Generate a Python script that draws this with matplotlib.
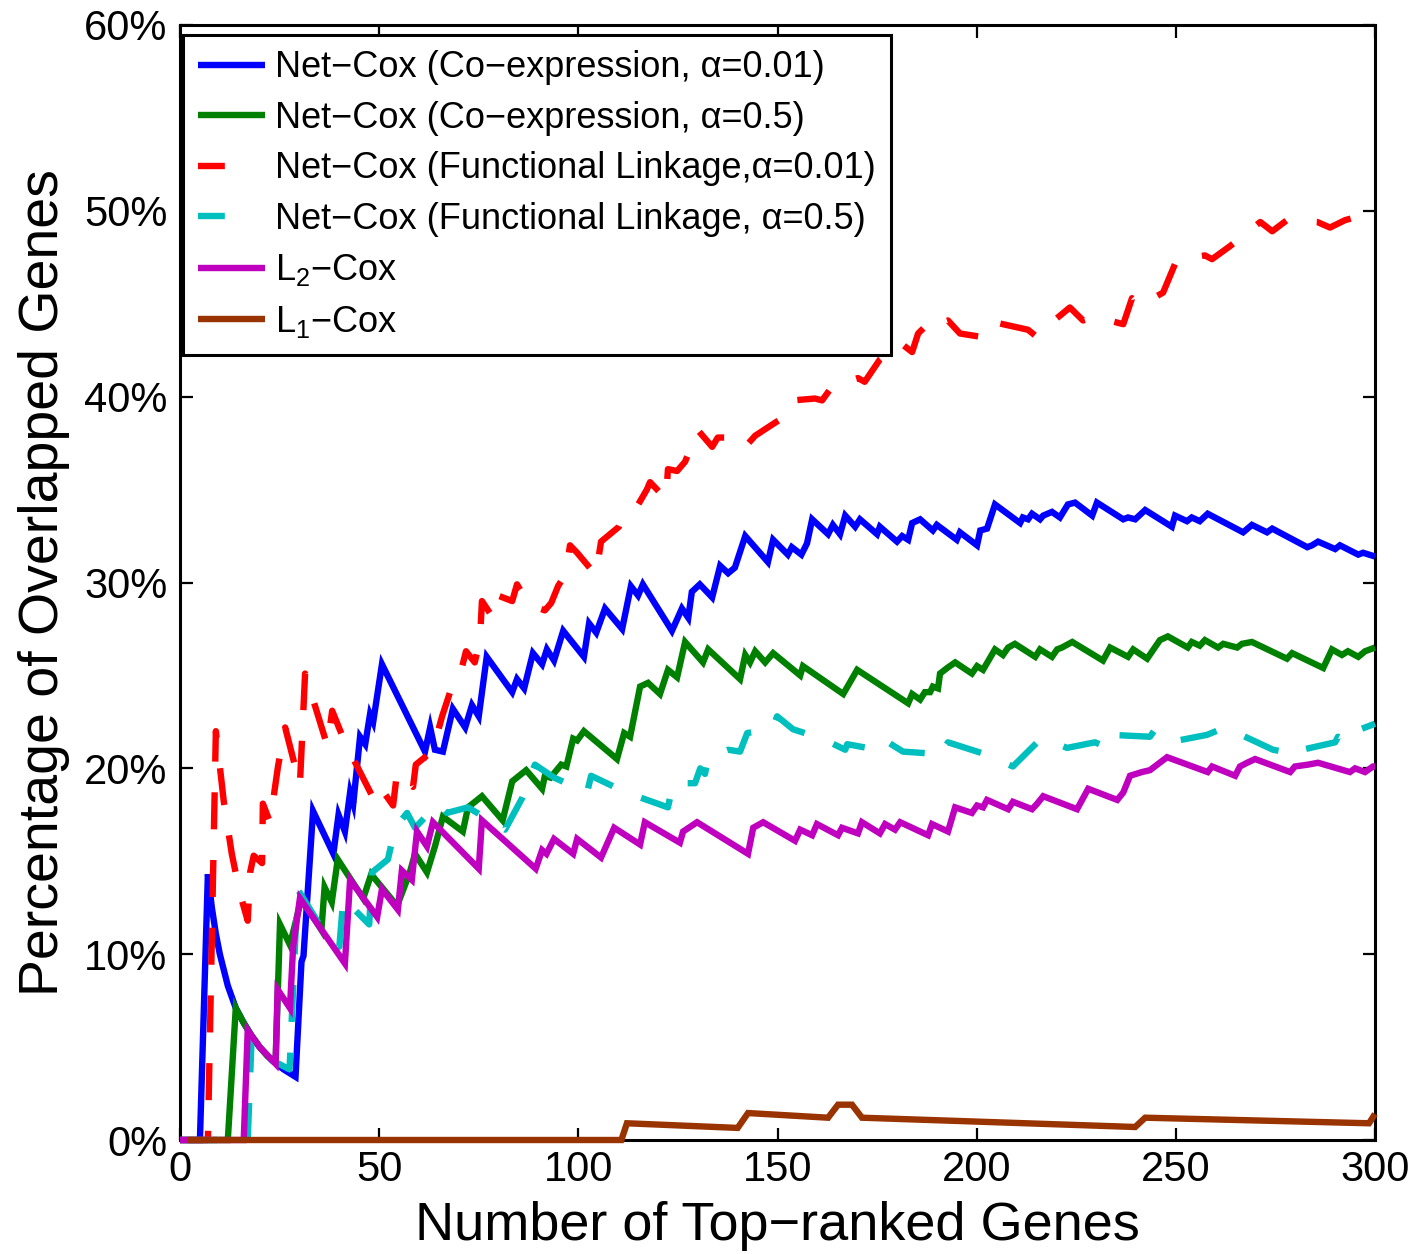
import numpy as np
import matplotlib
matplotlib.use('Agg')
import matplotlib.pyplot as plt
from matplotlib.ticker import FixedLocator, FuncFormatter

plt.rcParams['font.family'] = ['Liberation Sans', 'DejaVu Sans']
plt.rcParams['mathtext.fontset'] = 'custom'
plt.rcParams['mathtext.rm'] = 'Liberation Sans'
plt.rcParams['mathtext.it'] = 'Liberation Sans:italic'

# values: x = number of top-ranked genes, y = percent overlapped
blue_x = [0, 5, 7, 8, 9, 10, 12, 14, 16, 18,
          20, 23, 26, 29, 30.5, 31, 33.4, 38.5, 39.8, 41.4,
          42.7, 43.5, 45.2, 46.5, 47.7, 48.5, 50.7, 61.5, 62.8, 64,
          66, 68.5, 71.6, 73.3, 75, 77, 83.4, 84.6, 86.4, 88.6,
          90.9, 92.1, 93.9, 96.2, 101.4, 102.7, 104.5, 106.7, 111, 113.2,
          115, 116.2, 123.5, 126, 127.6, 128.5, 130.5, 133.6, 135.6, 137.6,
          139.3, 141.9, 147.6, 148.9, 152.6, 153.6, 156, 157.4, 158.7, 162.7,
          163.9, 165.7, 167, 169.5, 170.7, 175, 175.7, 180, 181.3, 182.8,
          183.8, 185.8, 189, 190, 195, 195.8, 200.1, 200.9, 202.6, 204.6,
          210.9, 211.6, 212.9, 213.9, 215.9, 216.7, 218.9, 220.9, 222.9, 224.7,
          229, 230.2, 236.8, 238, 239.8, 242.3, 249, 249.8, 252.8, 254,
          256, 258, 266.9, 269.1, 272.9, 274.2, 283, 284.2, 285.7, 290,
          291.2, 295.8, 297, 300]
blue_y = [0, 0, 14.3, 12.5, 11.1, 10.0, 8.3, 7.1, 6.3, 5.6,
          5.0, 4.3, 3.8, 3.4, 9.6, 9.9, 17.7, 15.4, 17.5, 16.6,
          18.7, 18.1, 21.7, 21.3, 22.9, 22.5, 25.6, 20.9, 22.2, 21.0,
          20.9, 23.2, 22.2, 23.4, 22.8, 26.0, 24.1, 24.8, 24.3, 26.2,
          25.6, 26.4, 25.8, 27.4, 26.0, 27.8, 27.3, 28.6, 27.5, 29.8,
          29.3, 29.9, 27.4, 28.6, 28.1, 29.5, 29.9, 29.2, 30.9, 30.5,
          30.8, 32.5, 31.1, 32.3, 31.5, 31.9, 31.5, 32.1, 33.4, 32.6,
          33.1, 32.6, 33.6, 33.0, 33.4, 32.6, 33.0, 32.2, 32.5, 32.3,
          33.2, 33.4, 32.8, 33.1, 32.3, 32.7, 32.0, 32.8, 32.9, 34.2,
          33.2, 33.5, 33.4, 33.7, 33.4, 33.6, 33.8, 33.5, 34.2, 34.3,
          33.6, 34.3, 33.4, 33.5, 33.4, 33.9, 33.0, 33.6, 33.3, 33.5,
          33.3, 33.7, 32.7, 33.1, 32.7, 32.9, 31.9, 32.0, 32.2, 31.8,
          32.0, 31.5, 31.6, 31.4]

green_x = [0, 12, 14, 16, 18, 20, 22, 24, 25.1, 27.6,
           30.5, 35.5, 36.3, 38.1, 39.6, 46, 48, 54.5, 57.7, 59,
           62, 64, 66, 71, 72.3, 75.8, 81, 83.4, 86.9, 90.9,
           91.6, 93, 95.7, 97, 98.7, 99.7, 101.4, 109.7, 111.5, 113,
           114.2, 115.5, 117.5, 120.5, 122.5, 124.8, 126.8, 131.3, 132.6, 140.6,
           141.9, 143.1, 144.4, 146.9, 148.9, 155.7, 156.4, 166.5, 170, 182.8,
           183.8, 185.8, 187, 188.3, 189, 190.3, 190.8, 192.6, 194.6, 198.8,
           200.1, 201.6, 204.6, 206.6, 207.9, 209.6, 214.7, 215.9, 218.9, 220.2,
           221.4, 224, 231.7, 233.5, 238, 239.3, 242.8, 246, 248, 253,
           254, 256, 257.3, 260.6, 261.9, 265.4, 266.6, 269.1, 277.9, 279.2,
           287, 289.2, 291.7, 293.2, 295.8, 297.5, 300]
green_y = [0, 0, 7.1, 6.3, 5.6, 5.0, 4.5, 4.2, 11.6, 10.5,
           13.0, 11.3, 13.6, 12.8, 15.1, 13.0, 14.3, 12.6, 14.4, 15.4,
           14.4, 15.8, 17.4, 16.6, 17.9, 18.5, 17.2, 19.3, 19.9, 18.9,
           19.6, 19.5, 20.2, 20.1, 21.6, 21.5, 22.0, 20.5, 21.9, 21.7,
           23.0, 24.4, 24.6, 24.0, 25.3, 24.9, 26.8, 25.7, 26.4, 24.8,
           26.1, 25.7, 26.3, 25.7, 26.2, 25.0, 25.5, 24.0, 25.3, 23.5,
           24.0, 23.7, 24.1, 24.1, 24.4, 24.3, 25.1, 25.4, 25.7, 25.1,
           25.5, 25.3, 26.4, 26.1, 26.5, 26.7, 26.0, 26.4, 26.0, 26.4,
           26.5, 26.8, 25.8, 26.5, 26.0, 26.4, 25.9, 26.9, 27.1, 26.5,
           26.8, 26.6, 26.9, 26.5, 26.7, 26.5, 26.7, 26.8, 25.9, 26.2,
           25.4, 26.4, 26.1, 26.3, 26.0, 26.3, 26.5]

red_x = [0, 7, 9, 11, 13, 15, 17, 17.6, 18.5, 20.6,
         20.8, 22.6, 24.6, 26.4, 30.1, 31.4, 37, 38.2, 41.4, 49.7,
         51.5, 53.5, 54.5, 58.5, 59.2, 61.5, 63.5, 65.8, 67.8, 70.5,
         71.8, 74, 75.3, 75.8, 78.6, 79.8, 83.4, 84.6, 87.6, 91.6,
         93.2, 94.9, 96.9, 97.9, 99.7, 104.4, 105.7, 110.2, 111, 113.2,
         114.5, 117.2, 118, 122, 122.5, 124.8, 126.8, 130, 133.6, 135,
         139.8, 141.9, 144.4, 149.4, 152.4, 153.9, 159.4, 161.2, 163.9, 170.2,
         171.9, 175.7, 180.8, 183.8, 185.3, 189.6, 191.4, 192.8, 195.8, 201.6,
         203.4, 204.6, 206.6, 212.9, 215.2, 216.7, 218.9, 223.4, 226.7, 229.7,
         236.8, 239, 241, 246.8, 250.3, 257.3, 259.1, 263.6, 271.2, 274.2,
         277.9, 285.5, 288.7, 292.5, 299.3, 300]
red_y = [0, 0, 22.0, 18.2, 15.4, 13.3, 11.8, 14.4, 15.3, 14.9,
         18.1, 17.1, 20.1, 22.2, 19.1, 25.1, 21.2, 23.1, 21.4, 17.9,
         18.6, 18.0, 19.8, 19.0, 20.2, 20.6, 21.0, 22.8, 24.1, 25.2,
         26.3, 25.7, 26.9, 29.0, 28.1, 29.3, 29.0, 29.9, 28.8, 28.5,
         28.9, 29.8, 30.5, 32.0, 31.6, 30.4, 32.2, 33.0, 33.4, 33.6,
         34.0, 35.0, 35.4, 34.5, 36.1, 36.0, 36.5, 38.2, 37.3, 37.8,
         37.8, 37.3, 37.9, 38.6, 39.0, 39.8, 39.9, 39.8, 40.6, 41.0,
         40.8, 42.0, 42.9, 42.4, 43.4, 44.3, 44.0, 44.1, 43.4, 43.2,
         43.4, 44.0, 43.9, 43.6, 43.2, 43.5, 44.0, 44.8, 44.1, 44.3,
         43.9, 45.3, 44.9, 45.6, 47.4, 47.6, 47.4, 48.1, 49.4, 48.9,
         49.5, 49.4, 49.1, 49.5, 49.9, 50.0]

cyan_x = [0, 17, 18, 20, 23, 27.5, 29.5, 30.1, 35, 40,
          41, 47.5, 48.2, 52.2, 54, 57, 59, 64.8, 67, 72.3,
          81.6, 85.9, 89.1, 93.9, 102.2, 103.2, 112, 122.5, 123.8, 129.3,
          130.6, 131.8, 132.6, 137.6, 140.6, 142.4, 148.6, 149.9, 153.9, 161.2,
          167, 167.5, 175, 177, 181.5, 188.3, 189, 191.6, 192.8, 201.6,
          209.1, 215.2, 218.5, 219.2, 222.7, 229.7, 233, 234, 243.5, 244.8,
          250.6, 257.8, 262.4, 265.4, 274.4, 276.9, 278.2, 281.7, 290, 290.7,
          293.7, 296.3, 300]
cyan_y = [0, 0, 5.6, 5.0, 4.3, 3.8, 13.5, 13.3, 11.6, 10.4,
          13.0, 11.6, 14.4, 15.1, 16.8, 17.6, 16.8, 18.1, 17.6, 17.9,
          16.7, 18.4, 20.2, 19.5, 18.7, 19.6, 18.7, 17.9, 19.2, 19.2,
          20.0, 19.7, 20.6, 21.0, 20.9, 21.9, 22.1, 22.8, 22.1, 21.6,
          21.0, 21.3, 21.0, 21.5, 20.9, 20.8, 21.2, 21.0, 21.4, 20.8,
          20.1, 21.4, 21.2, 21.4, 21.1, 21.4, 21.1, 21.8, 21.7, 22.1,
          21.5, 21.8, 22.2, 21.9, 21.0, 20.9, 21.2, 21.0, 21.4, 21.7,
          21.4, 22.1, 22.4]

magenta_x = [0, 16, 17, 20, 24, 24.5, 27.6, 28.4, 30.1, 41.4,
             42.7, 49.5, 50.7, 54.7, 55.7, 58.2, 59.5, 62, 63.5, 75,
             75.8, 89.3, 90.9, 92, 93.9, 98.7, 99.7, 105.7, 109, 115.5,
             116.7, 125.5, 126.3, 129.8, 142.6, 143.9, 146.4, 154.4, 155.7, 158.7,
             159.9, 165.2, 166.2, 170.2, 171.2, 175.7, 177, 179.5, 180.8, 187.8,
             188.8, 192.8, 194.6, 198.8, 200.1, 201.6, 202.6, 207.9, 209.1, 213.9,
             215.2, 216.7, 225.2, 228, 235.3, 236.8, 238.5, 241.5, 243.5, 247.8,
             258, 259.1, 264.9, 266.1, 267.9, 269.9, 278.7, 279.9, 283.2, 285.7,
             293.7, 295, 297.5, 299.5, 300]
magenta_y = [0, 0, 5.9, 5.0, 4.1, 8.1, 7.1, 10.4, 13.0, 9.5,
             14.0, 12.0, 13.5, 12.4, 14.5, 14.0, 16.6, 15.8, 17.1, 14.6,
             17.2, 14.6, 15.6, 15.4, 16.2, 15.4, 16.2, 15.2, 16.8, 15.9,
             17.1, 16.0, 16.6, 17.1, 15.4, 16.8, 17.1, 16.1, 16.7, 16.4,
             17.0, 16.4, 16.8, 16.5, 17.1, 16.5, 17.0, 16.7, 17.1, 16.4,
             17.0, 16.6, 17.9, 17.6, 18.0, 17.9, 18.3, 17.8, 18.2, 17.8,
             18.1, 18.5, 17.8, 18.9, 18.3, 18.7, 19.6, 19.8, 19.9, 20.6,
             19.8, 20.1, 19.6, 20.1, 20.3, 20.5, 19.8, 20.1, 20.2, 20.3,
             19.8, 20.0, 19.8, 20.1, 20.1]

brown_x = [2, 110.8, 112.2, 140, 142.6, 162.7, 165.2, 168.7, 171.2, 239.8,
           242.3, 298.5, 300]
brown_y = [0, 0, 0.9, 0.65, 1.45, 1.2, 1.9, 1.9, 1.2, 0.7,
           1.2, 0.9, 1.4]

labels = ['Net\u2212Cox (Co\u2212expression, \u03b1=0.01)',
          'Net\u2212Cox (Co\u2212expression, \u03b1=0.5)',
          'Net\u2212Cox (Functional Linkage,\u03b1=0.01)',
          'Net\u2212Cox (Functional Linkage, \u03b1=0.5)',
          'L$_2$\u2212Cox',
          'L$_1$\u2212Cox']

xticks = [0, 50, 100, 150, 200, 250, 300]
yticks = [0, 10, 20, 30, 40, 50, 60]

fig = plt.figure(figsize=(14.2, 12.54), dpi=100)
ax = fig.add_axes([180/1420, 114/1254, 1195/1420, 1115/1254])

lw = 4.6
series = [
    (blue_x, blue_y, '#0000ff', '-'),
    (green_x, green_y, '#008000', '-'),
    (red_x, red_y, '#ff0000', '--'),
    (cyan_x, cyan_y, '#00bfbf', '--'),
    (magenta_x, magenta_y, '#bf00bf', '-'),
    (brown_x, brown_y, '#993300', '-'),
]
for (x, y, c, ls), lab in zip(series, labels):
    line, = ax.plot(x, y, color=c, lw=lw, label=lab, clip_on=False, zorder=3,
                    solid_joinstyle='miter', solid_capstyle='butt')
    if ls == '--':
        line.set_dashes((5.8, 4.8))

ax.set_xlim(0, 300)
ax.set_ylim(0, 60)
ax.xaxis.set_major_locator(FixedLocator(xticks))
ax.yaxis.set_major_locator(FixedLocator(yticks))
ax.yaxis.set_major_formatter(FuncFormatter(lambda v, p: '%d%%' % v))
ax.tick_params(direction='in', length=9, width=1.6, top=True, right=True,
               labelsize=30, pad=7)
ax.tick_params(axis='y', pad=9)
for s in ax.spines.values():
    s.set_linewidth(2.2)

ax.set_xlabel('Number of Top\u2212ranked Genes', fontsize=39, labelpad=8)
ax.set_ylabel('Percentage of Overlapped Genes', fontsize=40, labelpad=10)

leg = ax.legend(loc='upper left', bbox_to_anchor=(0.0025, 0.991), borderaxespad=0,
                fontsize=26, handlelength=1.85, handletextpad=0.27,
                labelspacing=0.43, borderpad=0.42, fancybox=False, framealpha=1)
leg.get_frame().set_edgecolor('black')
leg.get_frame().set_linewidth(2.2)
# dashed entries show a single short dash in the legend
for hl, (x, y, c, ls) in zip(leg.get_lines(), series):
    if ls == '--':
        hl.set_dashes((4.2, 20))

plt.savefig('out.png', dpi=100)
